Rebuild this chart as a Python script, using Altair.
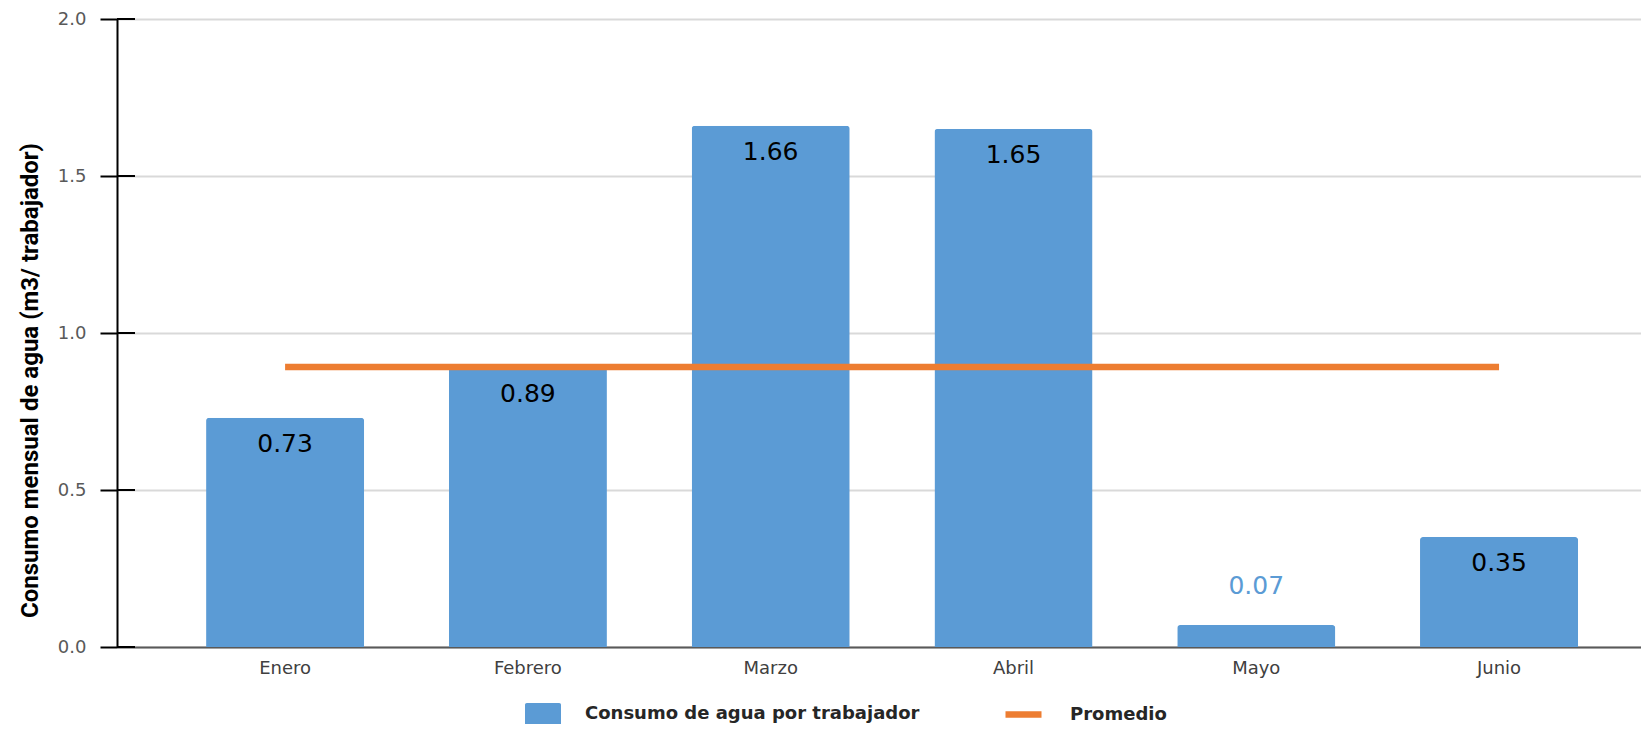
import altair as alt
import pandas as pd

meses = ["Enero", "Febrero", "Marzo", "Abril", "Mayo", "Junio"]
consumo = [0.73, 0.89, 1.66, 1.65, 0.07, 0.35]
y_ticks = [0.0, 0.5, 1.0, 1.5, 2.0]

serie_barras = "Consumo de agua por trabajador"
serie_linea = "Promedio"

df = pd.DataFrame({"mes": meses, "valor": consumo})
df_ticks = pd.DataFrame({"t": y_ticks})

BLUE = "#5B9BD5"
ORANGE = "#ED7D31"

x_scale = alt.Scale(paddingInner=0.349, paddingOuter=0.313, align=0.586)
y_scale = alt.Scale(domain=[0, 2])

base = alt.Chart(df)

rect_path = ("M-0.9,-0.61H0.9Q1,-0.61 1,-0.51V0.51Q1,0.61 0.9,0.61"
             "H-0.9Q-1,0.61 -1,0.51V-0.51Q-1,-0.61 -0.9,-0.61Z")

bars = base.mark_bar(cornerRadiusTopLeft=3, cornerRadiusTopRight=3).transform_calculate(
    serie=f"'{serie_barras}'"
).encode(
    x=alt.X("mes:N", sort=meses, scale=x_scale, title=None,
            axis=alt.Axis(labelAngle=0, ticks=False, tickSize=0, labelPadding=12,
                          labelFont="DejaVu Sans", labelFontSize=18, labelColor="#404040",
                          domainColor="#595959", domainWidth=2, grid=False)),
    y=alt.Y("valor:Q", scale=y_scale,
            title="Consumo mensual  de agua (m3/ trabajador)",
            axis=alt.Axis(values=y_ticks, format=".1f", tickSize=17, tickWidth=2,
                          tickColor="black", domainColor="black", domainWidth=2,
                          labelPadding=14, labelFont="DejaVu Sans", labelFontSize=18,
                          labelColor="#595959", gridColor="#D9D9D9", gridWidth=2,
                          titleFont="Roboto", titleFontSize=24,
                          titleFontWeight="bold", titleColor="black",
                          titleX=-87, titleY=361, titleAngle=270,
                          titleAlign="center", titleBaseline="middle")),
    color=alt.Color("serie:N", scale=alt.Scale(domain=[serie_barras], range=[BLUE]),
                    legend=alt.Legend(orient="none", legendX=408, legendY=677, title=None,
                                      symbolType=rect_path, symbolSize=1296,
                                      symbolStrokeWidth=0, padding=0, labelLimit=0,
                                      labelFont="DejaVu Sans", labelFontWeight="bold",
                                      labelFontSize=18, labelColor="#262626",
                                      labelOffset=24)),
)

linea = base.mark_line(strokeWidth=6.5, strokeCap="butt").transform_joinaggregate(
    promedio="mean(valor)"
).transform_calculate(
    serie2=f"'{serie_linea}'"
).encode(
    x=alt.X("mes:N", sort=meses, scale=x_scale),
    y=alt.Y("promedio:Q", scale=y_scale),
    stroke=alt.Stroke("serie2:N", scale=alt.Scale(domain=[serie_linea], range=[ORANGE]),
                      legend=alt.Legend(orient="none", legendX=885, legendY=674, title=None,
                                        symbolType="stroke", symbolSize=1296,
                                        symbolStrokeWidth=6.5, padding=0, labelLimit=0,
                                        labelFont="DejaVu Sans", labelFontWeight="bold",
                                        labelFontSize=18, labelColor="#262626",
                                        labelOffset=25)),
)

txt_in = base.mark_text(dy=26, baseline="middle", align="center", font="DejaVu Sans",
                        fontSize=25, color="black").transform_filter(
    "datum.valor >= 0.2"
).encode(
    x=alt.X("mes:N", sort=meses, scale=x_scale),
    y=alt.Y("valor:Q", scale=y_scale),
    text=alt.Text("valor:Q", format=".2f"),
)

txt_out = base.mark_text(dy=-39, baseline="middle", align="center", font="DejaVu Sans",
                         fontSize=25, color=BLUE).transform_filter(
    "datum.valor < 0.2"
).encode(
    x=alt.X("mes:N", sort=meses, scale=x_scale),
    y=alt.Y("valor:Q", scale=y_scale),
    text=alt.Text("valor:Q", format=".2f"),
)

ticks_in = alt.Chart(df_ticks).mark_rule(color="black", strokeWidth=2).encode(
    x=alt.value(0), x2=alt.value(18),
    y=alt.Y("t:Q", scale=y_scale),
)

chart = alt.layer(bars, linea, txt_in, txt_out, ticks_in).properties(
    width=1524, height=628,
    autosize=alt.AutoSizeParams(type="none"),
    padding={"left": 109, "top": 11, "right": 0, "bottom": 77},
).configure_view(stroke=None).resolve_scale(color="independent")

chart.save("out.html", embed_options={"renderer": "svg", "actions": False})
